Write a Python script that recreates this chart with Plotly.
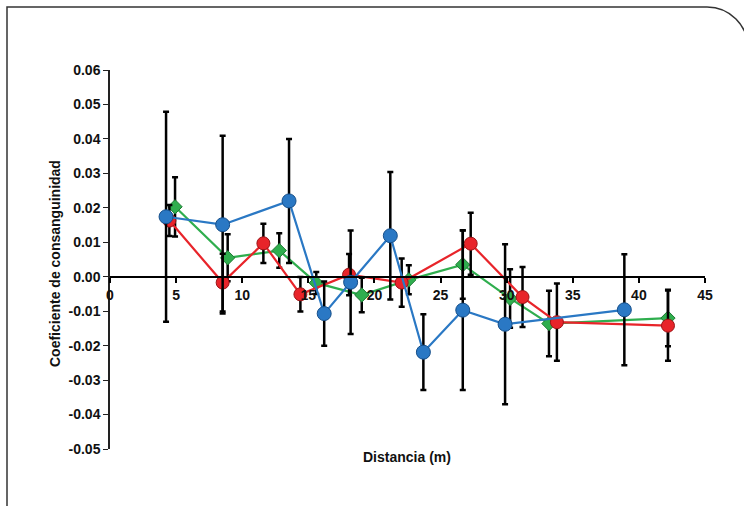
import plotly.graph_objects as go

# Blue series (circles)
blue_x = [4.24, 8.52, 13.54, 16.2, 18.2, 21.2, 23.7, 26.68, 29.88, 38.9]
blue_y = [0.0174, 0.0151, 0.0220, -0.0107, -0.0016, 0.0119, -0.0219, -0.0097, -0.0138, -0.0096]
blue_err = [0.0305, 0.0258, 0.0180, 0.0093, 0.0150, 0.0185, 0.0110, 0.0232, 0.0232, 0.0161]

# Red series (circles)
red_x = [4.49, 8.52, 11.6, 14.4, 18.08, 22.06, 27.28, 31.2, 33.8, 42.2]
red_y = [0.0163, -0.0017, 0.0097, -0.0051, 0.0006, -0.0017, 0.0096, -0.0059, -0.0132, -0.0142]
red_err = [0.0045, 0.0084, 0.0057, 0.0050, 0.0060, 0.0070, 0.0090, 0.0087, 0.0112, 0.0102]

# Green series (diamonds)
green_x = [4.92, 8.9, 12.8, 15.6, 19.04, 22.6, 26.68, 30.26, 33.2, 42.2]
green_y = [0.0203, 0.0055, 0.0076, -0.0018, -0.0053, -0.0009, 0.0035, -0.0063, -0.0136, -0.0120]
green_err = [0.0086, 0.0068, 0.0050, 0.0032, 0.0050, 0.0042, 0.0099, 0.0085, 0.0095, 0.0082]

x_ticks = [0, 5, 10, 15, 20, 25, 30, 35, 40, 45]
y_ticks = [0.06, 0.05, 0.04, 0.03, 0.02, 0.01, 0.0, -0.01, -0.02, -0.03, -0.04, -0.05]
y_tick_text = ["0.06", "0.05", "0.04", "0.03", "0.02", "0.01", "0.00",
               "-0.01", "-0.02", "-0.03", "-0.04", "-0.05"]

x_title = "Distancia (m)"
y_title = "Coeficiente de consanguinidad"

W, H = 744, 506
ML, MR, MT, MB = 110, 39, 70, 57
PW, PH = W - ML - MR, H - MT - MB

def px2paper(px, py):
    return (px - ML) / PW, (H - MB - py) / PH

fig = go.Figure()

def add_series(x, y, err, color, edge, symbol, size):
    fig.add_trace(go.Scatter(
        x=x, y=y, mode="lines+markers",
        line=dict(color=color, width=2.2),
        marker=dict(symbol=symbol, size=size, color=color,
                    line=dict(color=edge, width=1)),
        error_y=dict(type="data", array=err, visible=True,
                     color="black", thickness=2.5, width=3),
        cliponaxis=False, showlegend=False,
    ))

add_series(green_x, green_y, green_err, "#2fae4e", "#1d7a33", "diamond", 11)
add_series(red_x, red_y, red_err, "#e8242a", "#9c1518", "circle", 13)
add_series(blue_x, blue_y, blue_err, "#2a78c4", "#164f8a", "circle", 14)

font_bold = dict(family="Liberation Sans, Arial, sans-serif", size=14, color="#111", weight="bold")

fig.update_xaxes(
    range=[0, 45], tickvals=x_ticks, ticktext=[str(v) for v in x_ticks],
    showline=True, linecolor="black", linewidth=2,
    ticks="outside", ticklen=5, tickwidth=1.5, tickcolor="black",
    showgrid=False, zeroline=False,
    anchor="free", position=0.05 / 0.11,
    tickfont=font_bold,
)
fig.update_yaxes(
    range=[-0.05, 0.06], tickvals=y_ticks, ticktext=y_tick_text,
    showline=True, linecolor="#222", linewidth=1.5,
    ticks="outside", ticklen=5, tickwidth=1.2, tickcolor="#222",
    showgrid=False, zeroline=False,
    tickfont=font_bold,
)

# decorative rounded frame
p = [px2paper(7, 506), px2paper(7, 7), px2paper(707, 7),
     px2paper(729.6, 7), px2paper(748, 25.4), px2paper(748, 48), px2paper(748, 506)]
path = (f"M {p[0][0]},{p[0][1]} L {p[1][0]},{p[1][1]} L {p[2][0]},{p[2][1]} "
        f"C {p[3][0]},{p[3][1]} {p[4][0]},{p[4][1]} {p[5][0]},{p[5][1]} "
        f"L {p[6][0]},{p[6][1]}")
fig.add_shape(type="path", xref="paper", yref="paper", path=path,
              line=dict(color="#333", width=1.5))

tx, ty = px2paper(407, 467)
fig.add_annotation(x=tx, y=ty, xref="paper", yref="paper", text=x_title,
                   showarrow=False, font=dict(family="Liberation Sans, Arial, sans-serif",
                                              size=14, color="#111", weight="bold"))
yx, yy = px2paper(45, 264)
fig.add_annotation(x=yx, y=yy, xref="paper", yref="paper", text=y_title,
                   showarrow=False, textangle=-90,
                   font=dict(family="Liberation Sans, Arial, sans-serif",
                             size=14, color="#111", weight="bold"))

fig.update_layout(
    width=W, height=H, autosize=False,
    margin=dict(l=ML, r=MR, t=MT, b=MB),
    paper_bgcolor="white", plot_bgcolor="white",
    font=dict(family="Liberation Sans, Arial, sans-serif", color="black"),
)

fig.write_html("out.html")
